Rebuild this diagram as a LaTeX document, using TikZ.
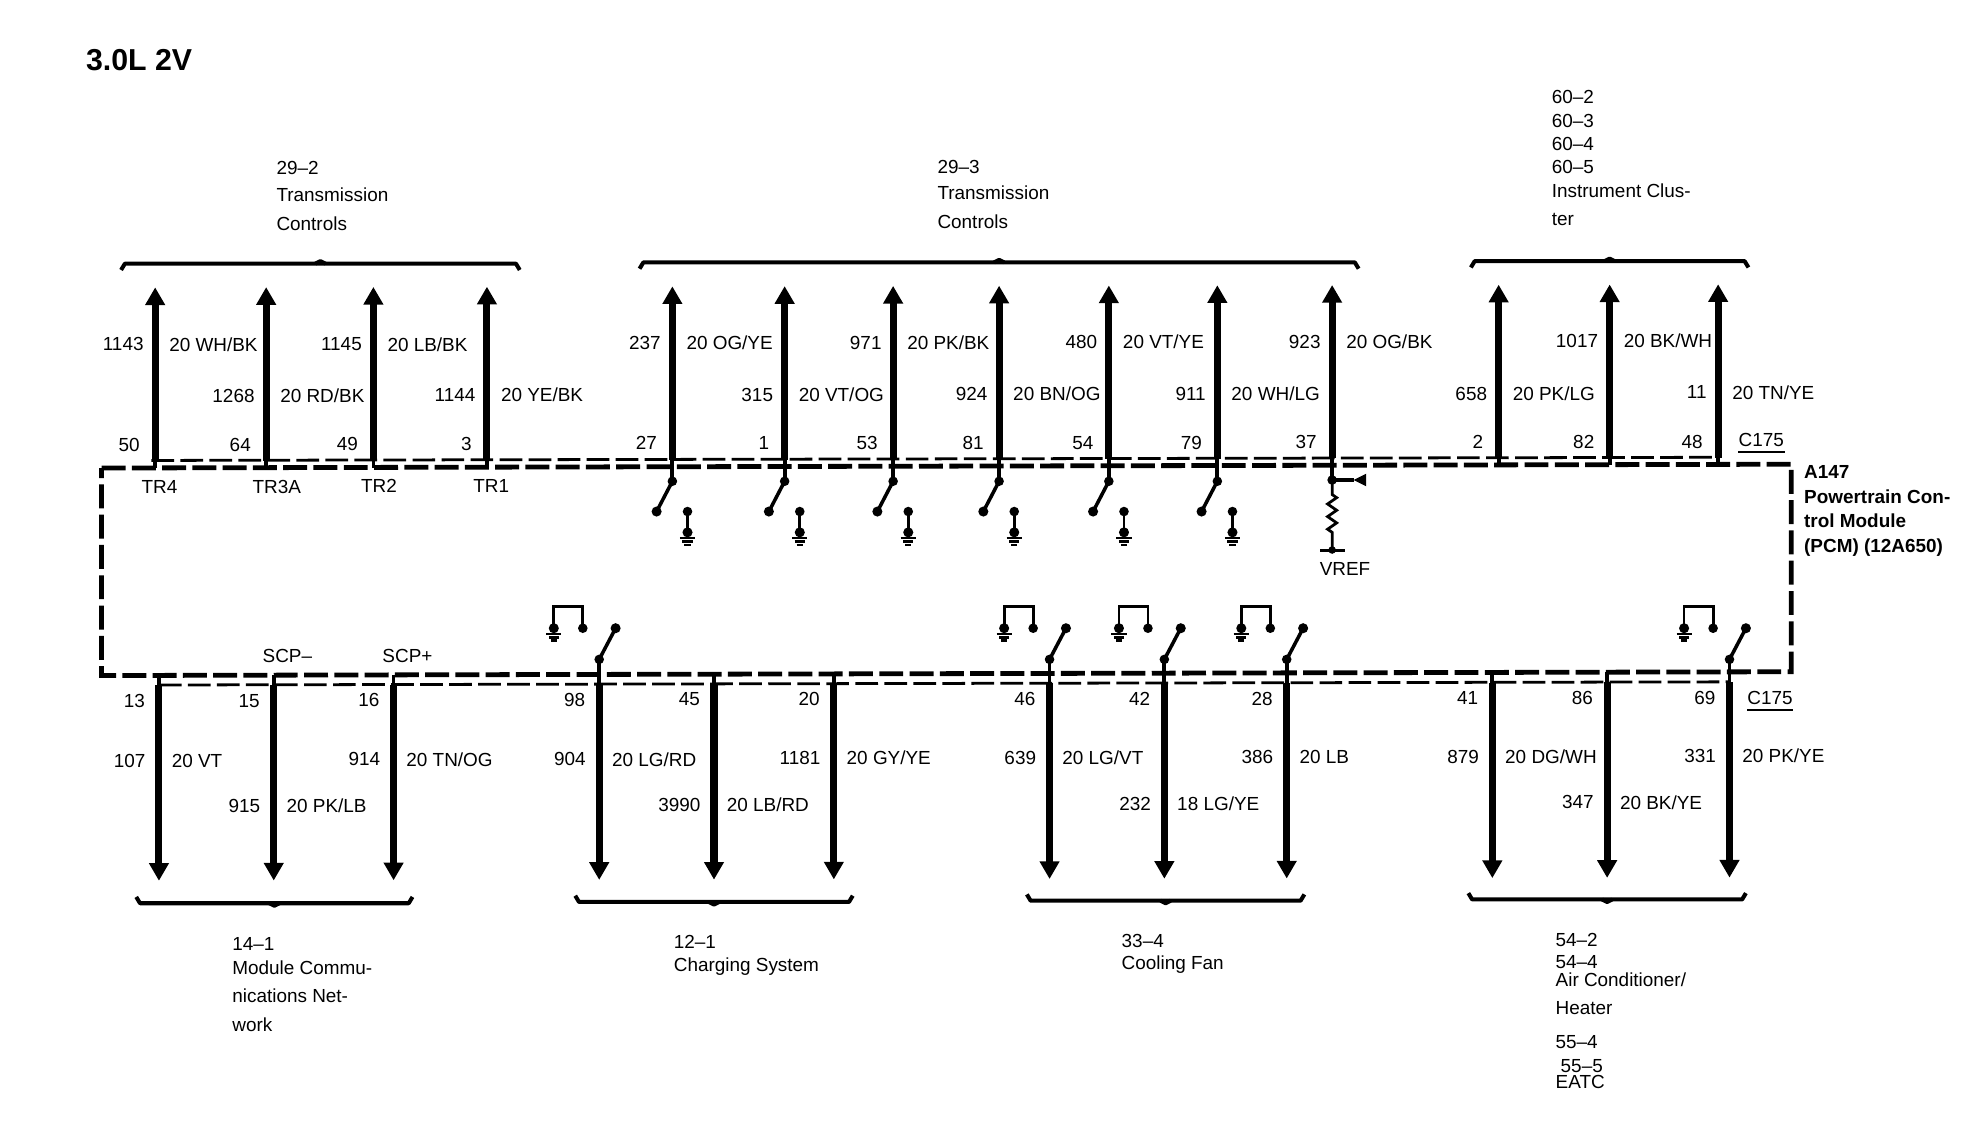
\documentclass[tikz,border=0pt]{standalone}
\usepackage{fontspec}
\setmainfont{Liberation Sans}
\usetikzlibrary{arrows.meta,decorations.pathmorphing}

\tikzset{
	txt/.style={font=\fontsize{15}{15}\selectfont, inner sep=0pt, anchor=west},
	num/.style={txt, anchor=east},
	wirearrow/.style={line width=5.6pt, -{Triangle[length=14pt,width=15pt]}},
	stem/.style={line width=3pt},
	thinline/.style={line width=2.2pt, dash pattern=on 18pt off 5pt},
	boxline/.style={line width=3.8pt, dash pattern=on 19pt off 5pt},
	brace/.style={line width=3.2pt, line join=round},
	swarm/.style={line width=2.8pt},
	gnd/.pic={
		\fill (0,0) circle (4pt);
		\draw[line width=2.2pt] (-6,4.5) -- (6,4.5);
		\draw[line width=2.2pt] (-4,7.5) -- (4,7.5);
		\draw[line width=2.2pt] (-2.5,10) -- (2.5,10);
	}
}

\begin{document}
\begin{tikzpicture}[x=1pt,y=-1pt]
	\useasboundingbox (0,0) rectangle (1568,900.6);

	\node[txt, font=\fontsize{24}{24}\selectfont\bfseries] (title) at (68,48) {3.0L 2V};

	% module outline
	\coordinate (tl) at (80.5,371);
	\coordinate (tr) at (1420,368);
	\coordinate (br) at (1420,532.5);
	\coordinate (bl) at (80.5,535.5);
	\draw[boxline] (tl) -- (tr) -- (br) -- (bl) -- cycle;
	\coordinate (tla) at (120,365);
	\coordinate (tra) at (1362,362.5);
	\draw[thinline] (tla) -- (tra);
	\coordinate (bla) at (126,543);
	\coordinate (bra) at (1371,540.5);
	\draw[thinline] (bla) -- (bra);

	% upper wires
	\foreach \x/\pin/\py/\num/\wire/\wy in {
		123/50/353/1143/{20 WH/BK}/273, 211/64/353/1268/{20 RD/BK}/314,
		296/49/352/1145/{20 LB/BK}/273, 386/3/352/1144/{20 YE/BK}/313,
		533/27/351/237/{20 OG/YE}/272, 622/1/351/315/{20 VT/OG}/313,
		708/53/351/971/{20 PK/BK}/272, 792/81/351/924/{20 BN/OG}/312,
		879/54/351/480/{20 VT/YE}/271, 965/79/351/911/{20 WH/LG}/312,
		1056/37/350/923/{20 OG/BK}/271, 1188/2/350/658/{20 PK/LG}/312,
		1276/82/350/1017/{20 BK/WH}/270, 1362/48/350/11/{20 TN/YE}/311}
	{
		\pgfmathsetmacro\ys{365.3-0.002*(\x-120)}
		\pgfmathsetmacro\ye{\ys-137.5}
		\pgfmathsetmacro\yb{\ys+6}
		\coordinate (ut\x) at (\x,\ye);
		\coordinate (us\x) at (\x,\ys);
		\coordinate (ub\x) at (\x,\yb);
		\draw[wirearrow] (us\x) -- (ut\x);
		\draw[stem] (ub\x) -- (us\x);
		\node[num] (upin\x) at (\x-12,\py) {\pin};
		\node[num] (unum\x) at (\x-9,\wy) {\num};
		\node[txt] (uwire\x) at (\x+11,\wy) {\wire};
	}

	% lower wires
	\foreach \x/\pin/\py/\num/\wire/\wy in {
		126/13/556/107/{20 VT}/603, 217/15/556/915/{20 PK/LB}/639,
		312/16/555/914/{20 TN/OG}/602, 475/98/555/904/{20 LG/RD}/602,
		566/45/554/3990/{20 LB/RD}/638, 661/20/554/1181/{20 GY/YE}/601,
		832/46/554/639/{20 LG/VT}/601, 923/42/554/232/{18 LG/YE}/637,
		1020/28/554/386/{20 LB}/600, 1183/41/553/879/{20 DG/WH}/600,
		1274/86/553/347/{20 BK/YE}/636, 1371/69/553/331/{20 PK/YE}/599}
	{
		\pgfmathsetmacro\ys{543.2-0.002*(\x-126)}
		\pgfmathsetmacro\ye{\ys+155}
		\pgfmathsetmacro\yb{\ys-8}
		\coordinate (ls\x) at (\x,\ys);
		\coordinate (lt\x) at (\x,\ye);
		\coordinate (lb\x) at (\x,\yb);
		\draw[wirearrow] (ls\x) -- (lt\x);
		\draw[stem] (lb\x) -- (ls\x);
		\node[num] (lpin\x) at (\x-11,\py) {\pin};
		\node[num] (lnum\x) at (\x-10.5,\wy) {\num};
		\node[txt] (lwire\x) at (\x+10,\wy) {\wire};
	}

	% switches inside the module, upper row
	\foreach \x in {533,622,708,792,879,965}
	{
		\coordinate (hu\x) at (\x,381.5);
		\coordinate (au\x) at (\x-12.5,405.5);
		\coordinate (cu\x) at (\x+12,405.5);
		\coordinate (gu\x) at (\x+12,422);
		\draw[stem] (ub\x) -- (hu\x);
		\fill (hu\x) circle (3.8pt) (au\x) circle (4pt) (cu\x) circle (3.8pt);
		\draw[swarm] (hu\x) -- (au\x);
		\draw[line width=2.2pt] (cu\x) -- (gu\x);
		\pic at (gu\x) {gnd};
	}

	% switches inside the module, lower row
	\foreach \x in {475,832,923,1020,1371}
	{
		\coordinate (hl\x) at (\x,522.7);
		\coordinate (al\x) at (\x+13,498);
		\coordinate (cl\x) at (\x-13,498);
		\coordinate (jr\x) at (\x-13,481);
		\coordinate (jl\x) at (\x-36,481);
		\coordinate (gl\x) at (\x-36,498);
		\draw[stem] (lb\x) -- (hl\x);
		\fill (hl\x) circle (3.8pt) (al\x) circle (4pt) (cl\x) circle (3.8pt);
		\draw[swarm] (hl\x) -- (al\x);
		\draw[line width=2.2pt] (cl\x) -- (jr\x) -- (jl\x) -- (gl\x);
		\pic at (gl\x) {gnd};
	}

	% reference voltage branch
	\coordinate (vj) at (1056,380.5);
	\coordinate (vt) at (1073,380.5);
	\coordinate (rt) at (1056,392);
	\coordinate (rb) at (1056,423);
	\coordinate (ve) at (1056,436);
	\draw[stem] (ub1056) -- (vj);
	\fill (vj) circle (3.8pt);
	\draw[line width=2.4pt] (vj) -- (vt);
	\fill (1073,380.5) -- (1083,375.5) -- (1083,385.5) -- cycle;
	\draw[line width=2.2pt] (vj) -- (rt) decorate[decoration={zigzag,segment length=10pt,amplitude=3.6pt}] {-- (rb)} -- (ve);
	\draw[line width=2.4pt] (1046.5,436) -- (1066,436);
	\fill (ve) circle (3pt);
	\node[txt] (vref) at (1046,451) {VREF};

	% module pin names
	\foreach \x/\y/\name in {112/386/TR4, 200/386/TR3A, 286/385/TR2, 375/385/TR1, 208/520/SCP--, 303/520/SCP+}
		\node[txt] (sig\name) at (\x,\y) {\name};

	% connector names
	\node[txt] (cu) at (1378,349) {C175};
	\draw[line width=1.6pt] (1378,358.5) -- (1415,358.5);
	\node[txt] (cl) at (1385,553) {C175};
	\draw[line width=1.6pt] (1385,562.5) -- (1421,562.5);

	% module name
	\foreach \y/\t in {374/A147, 394/Powertrain Con-, 413/trol Module, 434/{(PCM) (12A650)}}
		\node[txt, font=\fontsize{15}{15}\selectfont\bfseries] (pcm\y) at (1430,\y) {\t};

	% brackets
	\foreach \a/\b/\y in {96/412/209, 507/1077/208, 1166/1386/207}
	{
		\draw[brace] (\a,\y+5) -- (\a+3,\y) -- (\b-3,\y) -- (\b,\y+5);
		\draw[brace] ({(\a+\b)/2-4},\y) -- ({(\a+\b)/2},\y-2) -- ({(\a+\b)/2+4},\y);
	}
	\foreach \a/\b/\y in {108/327/716, 456/676/715, 814/1034/714, 1164/1384/713}
	{
		\draw[brace] (\a,\y-5) -- (\a+3,\y) -- (\b-3,\y) -- (\b,\y-5);
		\draw[brace] ({(\a+\b)/2-4},\y) -- ({(\a+\b)/2},\y+2) -- ({(\a+\b)/2+4},\y);
	}

	% references
	\foreach \x/\y/\t in {
		219/133/29--2, 219/154/Transmission, 219/177/Controls,
		743/132/29--3, 743/153/Transmission, 743/176/Controls,
		1230/77/60--2, 1230/96/60--3, 1230/114/60--4, 1230/132/60--5, 1230/151/Instrument Clus-, 1230/174/ter,
		184/748/14--1, 184/767/Module Commu-, 184/789/nications Net-, 184/812/work,
		534/747/12--1, 534/766/Charging System,
		889/746/33--4, 889/765/Cooling Fan,
		1233/745/54--2, 1233/763/54--4, 1233/777/{Air Conditioner/}, 1233/799/Heater,
		1233/826/55--4, 1237/845/55--5, 1233/858/EATC}
		\node[txt] (ref\x-\y) at (\x,\y) {\t};
\end{tikzpicture}
\end{document}
